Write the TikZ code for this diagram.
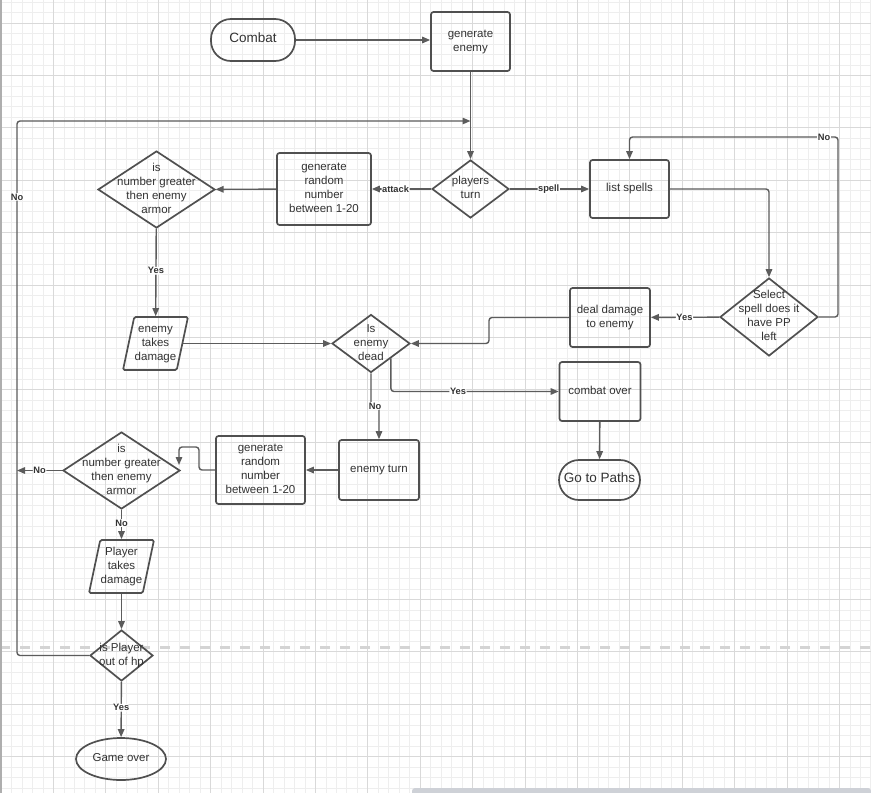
\documentclass[tikz,border=0pt]{standalone}
\usepackage{fontspec}
\setmainfont{Liberation Sans}
\usetikzlibrary{shapes.geometric,arrows.meta}

\definecolor{ink}{HTML}{505050}
\definecolor{wire}{HTML}{5C5C5C}
\definecolor{txt}{HTML}{333333}
\definecolor{gridlo}{HTML}{EEEEEE}
\definecolor{gridhi}{HTML}{D9D9D9}
\definecolor{pageline}{HTML}{D4D4D4}
\definecolor{scroll}{HTML}{CED1D7}

\newcommand{\ctext}[1]{\raisebox{-0.25em}[0pt][0pt]{\makebox[0pt]{\begin{tabular}{@{}c@{}}#1\end{tabular}}}}
\newcommand{\ptext}[1]{\rule[-26.5pt]{0pt}{53pt}\ctext{#1}}

\tikzstyle{base} = [draw=ink, line width=1.7pt, inner sep=0pt, text=txt]
\tikzstyle{block} = [base, rectangle, rounded corners=2.5pt]
\tikzstyle{term} = [base, rectangle, rounded corners=20pt, font=\fontsize{13.5}{16}\selectfont]
\tikzstyle{decision} = [base, diamond]
\tikzstyle{io} = [base, trapezium, trapezium left angle=78, trapezium right angle=102, trapezium stretches body, rounded corners=1.5pt]
\tikzstyle{stop} = [base, ellipse]
\tikzstyle{conn} = [draw=wire, line width=1.4pt, rounded corners=3pt, -{Triangle[length=8pt,width=6.5pt]}]
\tikzstyle{lbl} = [fill=white, inner sep=0.6pt, text=txt, font=\bfseries\fontsize{9.3}{11}\selectfont]

\begin{document}
\begin{tikzpicture}[x=1pt, y=-1pt, font=\fontsize{11.5}{14}\selectfont]
\useasboundingbox (0,0) rectangle (871,793);
\fill[white] (0,0) rectangle (871,793);
\foreach \i in {0,...,83} \draw[gridlo, line width=0.7pt] ({1+\i*10.48},0) -- ({1+\i*10.48},793);
\foreach \j in {0,...,75} \draw[gridlo, line width=0.7pt] (0,{2.04+\j*10.48}) -- (871,{2.04+\j*10.48});
\foreach \i in {0,...,16} \draw[gridhi, line width=0.8pt] ({1+\i*52.4},0) -- ({1+\i*52.4},793);
\foreach \j in {0,...,15} \draw[gridhi, line width=0.8pt] (0,{23+\j*52.4}) -- (871,{23+\j*52.4});
\draw[pageline, line width=3pt, dash pattern=on 10pt off 10pt] (0,647) -- (871,647);
\draw[gridhi!80!black, line width=2pt] (1,0) -- (1,793);
\fill[scroll, rounded corners=3pt] (412,788) rectangle (871,798);

\node[term, minimum width=84pt, minimum height=42pt] (combat) at (253,40) {\ctext{Combat}};
\node[block, minimum width=79pt, minimum height=59pt] (genenemy) at (470.5,41.5) {\ctext{generate\\enemy}};
\node[decision, minimum width=77pt, minimum height=58pt] (turn) at (470.5,189) {\ctext{players\\turn}};
\node[block, minimum width=94pt, minimum height=72pt] (genrand) at (324,189) {\ctext{generate\\random\\number\\between 1-20}};
\node[decision, minimum width=117pt, minimum height=77pt] (armor) at (156.5,189.5) {\ctext{is\\number greater\\then enemy\\armor}};
\node[io, minimum width=65pt] (etakes) at (155.5,343.5) {\ptext{enemy\\takes\\damage}};
\node[decision, minimum width=78pt, minimum height=58pt] (dead) at (371,343.5) {\ctext{Is\\enemy\\dead}};
\node[block, minimum width=79pt, minimum height=58pt] (spells) at (629.5,189) {\ctext{list spells}};
\node[decision, minimum width=98pt, minimum height=78pt] (select) at (769,317) {\ctext{Select\\spell does it\\have PP\\left}};
\node[block, minimum width=80pt, minimum height=59pt] (deal) at (610,317.5) {\ctext{deal damage\\to enemy}};
\node[block, minimum width=81pt, minimum height=59pt] (over) at (600,391.5) {\ctext{combat over}};
\node[term, minimum width=81pt, minimum height=40pt] (paths) at (599.5,480) {\ctext{Go to Paths}};
\node[block, minimum width=80pt, minimum height=60pt] (eturn) at (379,470) {\ctext{enemy turn}};
\node[block, minimum width=89pt, minimum height=68pt] (genrand2) at (260.5,470) {\ctext{generate\\random\\number\\between 1-20}};
\node[decision, minimum width=117pt, minimum height=77pt] (parmor) at (121.5,470.5) {\ctext{is\\number greater\\then enemy\\armor}};
\node[io, minimum width=65pt] (ptakes) at (121.5,566.5) {\ptext{Player\\takes\\damage}};
\node[decision, minimum width=63pt, minimum height=51pt] (hp) at (121.5,655.5) {\ctext{is Player\\out of hp}};
\node[stop, minimum width=90pt, minimum height=42pt] (gameover) at (121,759) {\ctext{Game over}};

\coordinate (loop) at (17,121);
\coordinate (nocorner) at (838,137);
\coordinate (dealjog) at (489,330);
\coordinate (deadno) at (375,406);
\coordinate (r2a) at (199,447);
\coordinate (r2b) at (179,465);
\coordinate (leftno) at (17,470.5);

\draw[conn] (combat.east) -- (combat.east -| genenemy.west);
\draw[conn] (genenemy) -- (turn);
\draw[conn] (hp.west) -- (hp.west -| loop) -- node[lbl, pos=0.858] {No} (loop) -- (loop -| turn.north);
\draw[conn] (turn) -- node[lbl, pos=0.6] {attack} (genrand);
\draw[conn] (genrand) -- (armor);
\draw[conn] (armor) -- node[lbl, pos=0.48] {Yes} (etakes);
\draw[conn] (etakes.east |- dead) -- (dead);
\draw[conn] (turn) -- node[lbl, pos=0.49] {spell} (spells);
\draw[conn] (spells.east) -| (select.north);
\draw[conn] (select.east) -| (nocorner) -- node[lbl, pos=0.067] {No} (nocorner -| spells.north) -- (spells.north);
\draw[conn] (select) -- node[lbl, pos=0.51] {Yes} (deal);
\draw[conn] (deal.west) -| (dealjog) |- (dead.east);
\draw[conn] (dead.south east) |- node[lbl, pos=0.7] {Yes} (over.west);
\draw[conn] (over) -- (paths);
\draw[conn] (dead.south) |- node[lbl, pos=1] {No} (deadno) -| (eturn.north);
\draw[conn] (eturn) -- (genrand2);
\draw[conn] (genrand2.west) -| (r2a) -| (r2b);
\draw[conn] (parmor.west) -- node[lbl] {No} (leftno);
\draw[conn] (parmor) -- node[lbl, pos=0.45] {No} (ptakes);
\draw[conn] (ptakes) -- (hp);
\draw[conn] (hp) -- node[lbl, pos=0.47] {Yes} (gameover);
\end{tikzpicture}
\end{document}
